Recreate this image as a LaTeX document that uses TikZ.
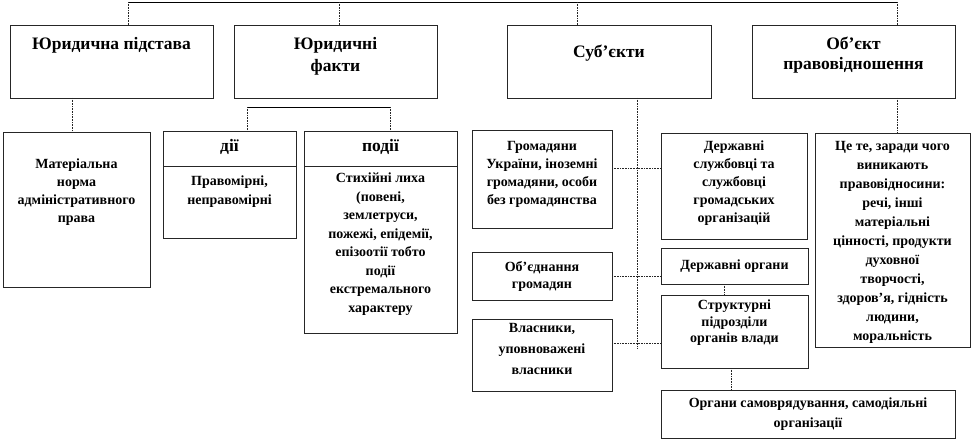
\documentclass[tikz,border=0pt]{standalone}
\usepackage{fontspec}
\setmainfont{Liberation Serif}
\begin{document}
\begin{tikzpicture}[x=1pt,y=-1pt,
  box/.style={draw=black!85, line width=0.7pt, inner sep=0pt, outer sep=0pt, anchor=north west},
  ttl/.style={font=\fontsize{17.5}{21}\selectfont\bfseries, align=center, inner sep=0pt, anchor=north},
  txt/.style={font=\fontsize{14}{18}\selectfont\bfseries, align=center, inner sep=0pt, anchor=north},
  conn/.style={dash pattern=on 0.8pt off 0.8pt, line width=0.7pt, black!85},
  solidconn/.style={line width=0.7pt, black}]
\useasboundingbox (0,0) rectangle (972,441);

% top level boxes
\node[box, minimum width=203pt, minimum height=73pt] (jp) at (10,25) {};
\node[ttl] (jpT) at (111.5,37) {Юридична підстава};
\node[box, minimum width=203pt, minimum height=73pt] (jf) at (234,25) {};
\node[ttl, font=\fontsize{17.5}{22}\selectfont\bfseries] (jfT) at (335.5,37) {Юридичні\\факти};
\node[box, minimum width=204pt, minimum height=73pt] (sub) at (507,25) {};
\node[ttl] (subT) at (609,45) {Суб’єкти};
\node[box, minimum width=203pt, minimum height=73pt] (obj) at (752,25) {};
\node[ttl, font=\fontsize{17.5}{20}\selectfont\bfseries] (objT) at (853.5,37) {Об’єкт\\правовідношення};

% second level
\node[box, minimum width=147pt, minimum height=155pt] (mat) at (3,132) {};
\node[txt] (matT) at (76.5,159) {Матеріальна\\норма\\адміністративного\\права};

\node[box, minimum width=133pt, minimum height=107pt] (dii) at (163,131) {};
\draw[black!85, line width=0.7pt] ([yshift=-35pt]dii.north west) -- ([yshift=-35pt]dii.north east);
\node[ttl] (diiH) at (229.5,139) {дії};
\node[txt, font=\fontsize{14}{19}\selectfont\bfseries] (diiT) at (229.5,176) {Правомірні,\\неправомірні};

\node[box, minimum width=153pt, minimum height=202pt] (podii) at (304,131) {};
\draw[black!85, line width=0.7pt] ([yshift=-35pt]podii.north west) -- ([yshift=-35pt]podii.north east);
\node[ttl] (podiiH) at (380.5,139) {події};
\node[txt, font=\fontsize{14}{18.5}\selectfont\bfseries] (podiiT) at (380.5,173) {Стихійні лиха\\(повені,\\землетруси,\\пожежі, епідемії,\\епізоотії тобто\\події\\екстремального\\характеру};

\node[box, minimum width=140pt, minimum height=98pt] (grom) at (472,130) {};
\node[txt] (gromT) at (542,141) {Громадяни\\України, іноземні\\громадяни, особи\\без громадянства};

\node[box, minimum width=146pt, minimum height=106pt] (dsl) at (661,133) {};
\node[txt] (dslT) at (734,141) {Державні\\службовці та\\службовці\\громадських\\організацій};

\node[box, minimum width=155pt, minimum height=214pt] (obtext) at (815,133) {};
\node[txt, font=\fontsize{14}{19}\selectfont\bfseries] (obtextT) at (892.5,141) {Це те, заради чого\\виникають\\правовідносини:\\речі, інші\\матеріальні\\цінності, продукти\\духовної\\творчості,\\здоров’я, гідність\\людини,\\моральність};

\node[box, minimum width=147pt, minimum height=36pt] (dorg) at (661,248) {};
\node[txt] (dorgT) at (734.5,260) {Державні органи};

\node[box, minimum width=140pt, minimum height=48pt] (obed) at (472,252) {};
\node[txt, font=\fontsize{14}{17}\selectfont\bfseries] (obedT) at (542,261) {Об’єднання\\громадян};

\node[box, minimum width=147pt, minimum height=73pt] (str) at (661,295) {};
\node[txt, font=\fontsize{14}{16.5}\selectfont\bfseries] (strT) at (734.5,300) {Структурні\\підрозділи\\органів влади};

\node[box, minimum width=140pt, minimum height=72pt] (vlas) at (472,319) {};
\node[txt, font=\fontsize{14}{21}\selectfont\bfseries] (vlasT) at (542,323) {Власники,\\уповноважені\\власники};

\node[box, minimum width=294pt, minimum height=48pt] (org) at (661,390) {};
\node[txt, font=\fontsize{14}{20}\selectfont\bfseries] (orgT) at (808,398) {Органи самоврядування, самодіяльні\\організації};

% connectors
\coordinate (t1) at (128,2);
\coordinate (t2) at (339,2);
\coordinate (t3) at (577,2);
\coordinate (t4) at (897,2);
\draw[solidconn] (t1) -- (t4);
\draw[conn] (t1) -- (t1 |- jp.north);
\draw[conn] (t2) -- (t2 |- jf.north);
\draw[conn] (t3) -- (t3 |- sub.north);
\draw[conn] (t4) -- (t4 |- obj.north);

\draw[conn] (jp.south -| 72,0) -- (mat.north -| 72,0);

\coordinate (bl) at (247,107);
\coordinate (br) at (390,107);
\draw[solidconn] (bl) -- (br);
\draw[conn] (bl) -- (bl |- dii.north);
\draw[conn] (br) -- (br |- podii.north);

\coordinate (send) at (637,348);
\draw[conn] (sub.south -| send) -- (send);
\draw[conn] (obj.south -| 897,0) -- (obtext.north -| 897,0);

\draw[conn] (grom.east |- 0,168) -- (dsl.west |- 0,168);
\draw[conn] (obed.east |- 0,276) -- (dorg.west |- 0,276);
\draw[conn] (vlas.east |- 0,343) -- (str.west |- 0,343);
\draw[conn] (dorg.south -| 724,0) -- (str.north -| 724,0);
\draw[conn] (str.south -| 731,0) -- (org.north -| 731,0);
\end{tikzpicture}
\end{document}
